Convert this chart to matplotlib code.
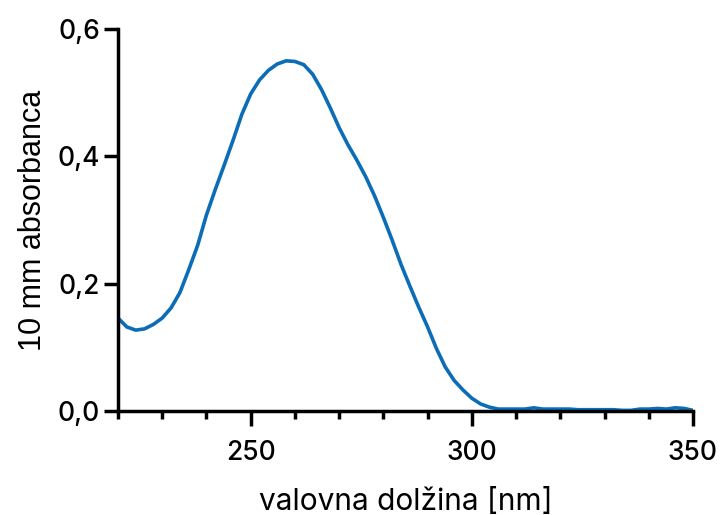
import matplotlib
matplotlib.use("Agg")
import matplotlib.pyplot as plt
import numpy as np
from matplotlib.ticker import FixedLocator, FuncFormatter

# absorbance spectrum at 2 nm steps
wavelength = np.arange(220, 352, 2)
absorbance = [
    0.146, 0.132, 0.127, 0.129, 0.136, 0.146, 0.162, 0.186, 0.222, 0.260,
    0.308, 0.348, 0.386, 0.425, 0.466, 0.498, 0.520, 0.535, 0.545, 0.550,
    0.549, 0.544, 0.529, 0.505, 0.476, 0.445, 0.418, 0.394, 0.368, 0.338,
    0.304, 0.268, 0.230, 0.196, 0.163, 0.132, 0.098, 0.069, 0.048, 0.033,
    0.020, 0.011, 0.006, 0.003, 0.003, 0.003, 0.003, 0.005, 0.003, 0.003,
    0.003, 0.003, 0.002, 0.002, 0.002, 0.002, 0.002, 0.001, 0.001, 0.003,
    0.003, 0.004, 0.003, 0.005, 0.004, 0.001,
]
x_major = [250, 300, 350]
x_minor = [220, 230, 240, 260, 270, 280, 290, 310, 320, 330, 340]
y_major = [0.0, 0.2, 0.4, 0.6]

line_color = "#0b6db7"

fig = plt.figure(figsize=(7.21, 5.15), dpi=100)
ax = fig.add_axes([118 / 721, 1 - 411 / 515, (693 - 118) / 721, 382 / 515])

ax.plot(wavelength, absorbance, color=line_color, lw=2.6,
        solid_capstyle="round", solid_joinstyle="round")

ax.set_xlim(220, 350)
ax.set_ylim(0, 0.6)
for side in ("top", "right"):
    ax.spines[side].set_visible(False)
for side in ("left", "bottom"):
    ax.spines[side].set_linewidth(2.5)
    ax.spines[side].set_capstyle("projecting")

ax.xaxis.set_major_locator(FixedLocator(x_major))
ax.xaxis.set_minor_locator(FixedLocator(x_minor))
ax.yaxis.set_major_locator(FixedLocator(y_major))
ax.yaxis.set_major_formatter(FuncFormatter(lambda v, _: f"{v:.1f}".replace(".", ",")))

ax.tick_params(axis="x", which="major", length=11, width=2.5, pad=10)
ax.tick_params(axis="x", which="minor", length=6, width=2.5)
ax.tick_params(axis="y", which="major", length=10, width=2.5, pad=3)
for lab in ax.get_xticklabels() + ax.get_yticklabels():
    lab.set_fontfamily("Inter")
    lab.set_fontsize(19)
    lab.set_fontweight("medium")

ax.set_xlabel("valovna dolžina [nm]", fontfamily="Inter", fontsize=21.5,
              fontweight="normal", labelpad=16)
ax.set_ylabel("10 mm absorbanca", fontfamily="Liberation Sans", fontsize=22,
              labelpad=7)

fig.savefig("out.png", dpi=100)
